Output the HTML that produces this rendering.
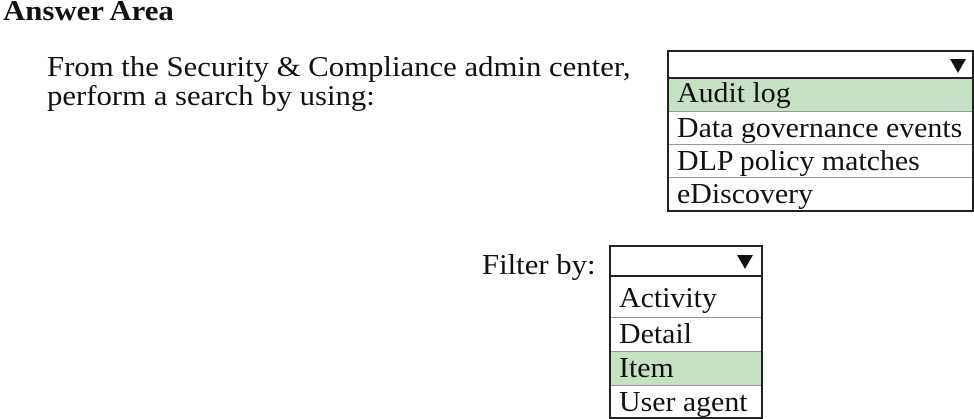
<!DOCTYPE html>
<html><head><style>
body{margin:0;width:974px;height:419px;background:#fff;position:relative;overflow:hidden;font-family:"Liberation Serif",serif;color:#111}
.a{position:absolute;white-space:nowrap;transform-origin:0 0}
.box{position:absolute;border:2px solid #222;box-sizing:border-box;background:#fff}
.row{position:absolute;left:0;right:0;box-sizing:border-box;border-top:1px solid #999;font-size:29px;padding-left:8px;line-height:32px;white-space:nowrap}
.row span{display:inline-block;transform:scaleX(1.03);transform-origin:0 0}
.g{background:#c5e0c3}
.tri{position:absolute;width:0;height:0;border-left:8px solid transparent;border-right:8px solid transparent;border-top:14px solid #111}
</style></head><body>
<div class="a" style="left:3px;top:-3px;font-size:28px;line-height:30px;font-weight:bold;transform:scaleX(1.1)">Answer Area</div>
<div class="a" style="left:47px;top:53px;font-size:29px;line-height:29px;transform:scaleX(1.06)">From the Security &amp; Compliance admin center,<br>perform a search by using:</div>

<div class="box" style="left:667px;top:77px;width:307px;height:135px;border-top:none">
<div class="row g" style="top:0;height:34px;border-top:none"><span>Audit log</span></div>
<div class="row" style="top:34px;height:33px"><span>Data governance events</span></div>
<div class="row" style="top:67px;height:33px"><span>DLP policy matches</span></div>
<div class="row" style="top:100px;height:33px"><span>eDiscovery</span></div>
</div>
<div class="box" style="left:667px;top:50px;width:307px;height:29px"><div class="tri" style="right:6px;top:7px"></div></div>

<div class="a" style="left:482px;top:250px;font-size:29px;line-height:30px;transform:scaleX(1.06)">Filter by:</div>
<div class="box" style="left:609px;top:275px;width:154px;height:144px;border-top:none">
<div class="row" style="top:0;height:42px;border-top:none;padding-top:7px;line-height:32px"><span>Activity</span></div>
<div class="row" style="top:42px;height:34px"><span>Detail</span></div>
<div class="row g" style="top:76px;height:34px"><span>Item</span></div>
<div class="row" style="top:110px;height:32px"><span>User agent</span></div>
</div>
<div class="box" style="left:609px;top:245px;width:154px;height:32px;background:transparent"><div class="tri" style="right:8px;top:8px"></div></div>
</body></html>
